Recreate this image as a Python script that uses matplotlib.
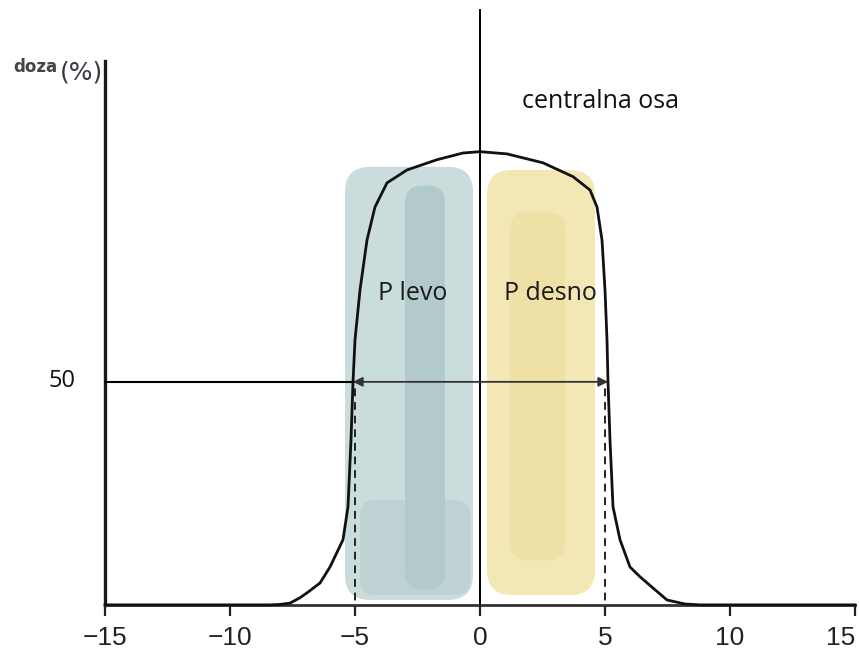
import matplotlib
matplotlib.use("Agg")
import matplotlib.pyplot as plt
from matplotlib.patches import FancyBboxPatch

# === podaci (ocitano sa slike) ===
poz_x = [-15, -8.4, -8.0, -7.6, -7.2, -6.92, -6.4, -6.0, -5.48, -5.28, -5.16, -5.08,
         -5.0, -4.8, -4.52, -4.2, -3.72, -2.92, -1.72, -0.68, 0.0,
         1.08, 2.52, 3.72, 4.4, 4.68, 4.88, 5.0, 5.08, 5.12, 5.2, 5.32, 5.6, 6.0,
         6.4, 7.0, 7.48, 8.2, 8.8, 15]
doza = [0, 0, 0.1, 0.4, 1.6, 2.7, 4.9, 8.5, 14.6, 22, 37, 50,
        59.4, 70.6, 81.8, 89.2, 94.6, 97.5, 99.8, 101.3, 101.6,
        101.1, 99.1, 96.0, 93.0, 89.2, 81.8, 70.6, 59.4, 50, 37, 22, 14.6, 8.5,
        6.3, 3.4, 1.1, 0.2, 0, 0]
x_ticks = [-15, -10, -5, 0, 5, 10, 15]
x_tick_labels = ["\u221215", "\u221210", "\u22125", "0", "5", "10", "15"]
polovina = 50
levo_50, desno_50 = -5.08, 5.12
# oblasti P levo / P desno: (x0, x1, y0, y1)
levo_span = (-5.4, -0.28, 1.1, 98.2)
desno_span = (0.28, 4.6, 2.2, 97.5)

fig = plt.figure(figsize=(8.59, 6.66), dpi=100)
ax = fig.add_axes([0, 0, 1, 1])
ax.set_xlim(-19.2, 15.16)
ax.set_ylim(-13.7, 135.6)

# === obojene oblasti ===
def mrlja(span, boja, z, r=1.0):
    x0, x1, y0, y1 = span
    p = FancyBboxPatch((x0, y0), x1 - x0, y1 - y0,
                       boxstyle="round,pad=0,rounding_size=%g" % r,
                       mutation_aspect=5.6, fc=boja, ec="none", zorder=z)
    ax.add_patch(p)

mrlja(levo_span, "#cbdcdd", 1)
mrlja((-4.8, -0.4, 2.2, 23.5), "#bed2d3", 1.05, 0.6)
mrlja((-3.0, -1.4, 3.4, 94.0), "#b3cacc", 1.1, 0.7)
mrlja(desno_span, "#f3e7b6", 1)
mrlja((1.2, 3.4, 10, 88), "#efe0a5", 1.1, 0.7)

# === kriva ===
ax.plot(poz_x, doza, color="#111111", lw=2.0, zorder=4, solid_joinstyle="round")

# centralna osa
ax.plot([0, 0], [0, 133.4], color="black", lw=1.4, zorder=5)

# linija 50 % i strelice
ax.plot([-15, levo_50], [polovina, polovina], color="black", lw=1.5, zorder=5)
for kraj in (levo_50, desno_50):
    ax.annotate("", xy=(kraj, polovina), xytext=(0, polovina),
                arrowprops=dict(arrowstyle="-|>", color="#333333", lw=1.3,
                                mutation_scale=14, shrinkA=0, shrinkB=0), zorder=5)
for kraj in (-5, 5):
    ax.plot([kraj, kraj], [-2.0, polovina], color="#222222", lw=1.4,
            ls=(0, (4, 3)), zorder=3)

# === ose ===
for s in ("top", "right"):
    ax.spines[s].set_visible(False)
ax.spines["left"].set_position(("data", -15))
ax.spines["bottom"].set_position(("data", 0))
ax.spines["left"].set_bounds(0, 122)
ax.spines["bottom"].set_bounds(-15, 15)
ax.spines["left"].set_linewidth(2.4)
ax.spines["bottom"].set_linewidth(2.0)
ax.spines["left"].set_color("#1a1a1a")
ax.spines["bottom"].set_color("#333333")
ax.set_yticks([])
ax.set_xticks(x_ticks)
ax.set_xticklabels(x_tick_labels, fontsize=19, color="#222222", family="Liberation Sans")
ax.get_xticklabels()[-1].set_ha("right")
ax.tick_params(axis="x", direction="out", length=8, width=1.6, pad=7, color="#222222")

# === tekst ===
ax.text(-18.68, 119.5, "doza", fontsize=12, fontweight="bold", color="#444444",
        ha="left", va="baseline")
ax.text(-16.8, 117.7, "(%)", fontsize=18, color="#333a44",
        ha="left", va="baseline")
ax.text(1.68, 111.4, "centralna osa", fontsize=18, family="Open Sans",
        ha="left", va="baseline", color="#111111")
ax.text(-2.7, 68.4, "P levo", fontsize=18, family="Open Sans",
        ha="center", va="baseline", color="#1a1a1a", zorder=6)
ax.text(2.82, 68.4, "P desno", fontsize=18, family="Open Sans",
        ha="center", va="baseline", color="#1a1a1a", zorder=6)
ax.text(-16.74, 48.9, "50", fontsize=17, family="Open Sans",
        ha="center", va="baseline", color="#111111")

fig.savefig("out.png", dpi=100)
